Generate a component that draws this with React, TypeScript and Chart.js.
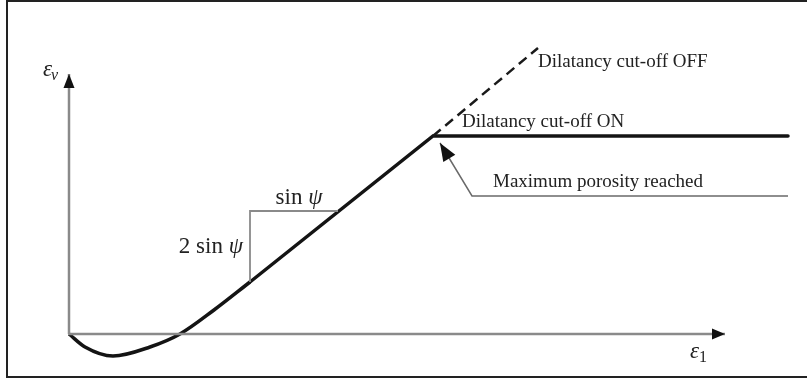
import React, { useEffect, useRef } from "react";
import { Chart, registerables } from "chart.js";

Chart.register(...registerables);

const W = 807;
const H = 379;

// Volumetric strain εv against axial strain ε1 (schematic units)
const curveE1 = [0, 0.16, 0.44, 0.81, 1.11, 1.45, 1.81];
const curveEv = [0, -0.13, -0.22, -0.13, 0, 0.24, 0.52];

// Linear dilation up to the cut-off, then constant volume
const cutOnE1 = [1.81, 3.64, 7.19];
const cutOnEv = [0.52, 1.98, 1.98];

// Continued dilation without the cut-off
const cutOffE1 = [3.64, 4.69];
const cutOffEv = [1.98, 2.86];

// Slope triangle (sin ψ across, 2 sin ψ up)
const triE1 = [1.81, 1.81, 2.69];
const triEv = [0.52, 1.23, 1.23];

// Axes
const xAxisE1 = [0, 6.56];
const xAxisEv = [0, 0];
const yAxisE1 = [0, 0];
const yAxisEv = [0, 2.6];

// Leader from the "Maximum porosity reached" note to the kink
const leaderE1 = [3.71, 4.03, 7.19];
const leaderEv = [1.91, 1.38, 1.38];

const noteTexts = ["Dilatancy cut-off OFF", "Dilatancy cut-off ON", "Maximum porosity reached"];
const noteE1 = [4.69, 3.93, 4.24];
const noteEv = [2.72, 2.12, 1.52];

const xMin = -0.69;
const xMax = 7.38;
const yMin = -0.45;
const yMax = 3.34;

const pts = (xs: number[], ys: number[]) => xs.map((x, i) => ({ x, y: ys[i] }));

const SERIF = '"Liberation Serif", "DejaVu Serif", serif';
const TEXT = "#222";

function arrowHead(ctx: CanvasRenderingContext2D, tipX: number, tipY: number, fromX: number, fromY: number, len: number, half: number, color: string) {
  const a = Math.atan2(tipY - fromY, tipX - fromX);
  ctx.save();
  ctx.translate(tipX, tipY);
  ctx.rotate(a);
  ctx.beginPath();
  ctx.moveTo(0, 0);
  ctx.lineTo(-len, -half);
  ctx.lineTo(-len, half);
  ctx.closePath();
  ctx.fillStyle = color;
  ctx.fill();
  ctx.restore();
}

const decorPlugin = {
  id: "decor",
  afterDatasetsDraw(chart: any) {
    const ctx: CanvasRenderingContext2D = chart.ctx;
    const xs = chart.scales.x;
    const ys = chart.scales.y;
    const px = (v: number) => xs.getPixelForValue(v);
    const py = (v: number) => ys.getPixelForValue(v);

    // frame
    ctx.save();
    ctx.strokeStyle = "#222";
    ctx.lineWidth = 2;
    ctx.beginPath();
    ctx.moveTo(W + 5, 1);
    ctx.lineTo(7, 1);
    ctx.lineTo(7, 377);
    ctx.lineTo(W + 5, 377);
    ctx.stroke();
    ctx.restore();

    // axis arrowheads
    arrowHead(ctx, px(xAxisE1[1]), py(xAxisEv[1]), px(0), py(0), 13, 5.5, "#111");
    arrowHead(ctx, px(yAxisE1[1]), py(yAxisEv[1]), px(0), py(0), 14, 5.5, "#111");
    // leader arrowhead
    arrowHead(ctx, px(leaderE1[0]), py(leaderEv[0]), px(leaderE1[1]), py(leaderEv[1]), 18, 7, "#111");

    ctx.save();
    ctx.fillStyle = TEXT;
    ctx.textBaseline = "middle";

    // notes
    ctx.font = `19px ${SERIF}`;
    ctx.textAlign = "left";
    noteTexts.forEach((t, i) => ctx.fillText(t, px(noteE1[i]), py(noteEv[i])));

    // sin ψ
    const size = 23;
    const drawSinPsi = (x: number, y: number, prefix: string, align: "center" | "right") => {
      ctx.font = `${size}px ${SERIF}`;
      const a = prefix + "sin ";
      const wa = ctx.measureText(a).width;
      ctx.font = `italic ${size}px ${SERIF}`;
      const wb = ctx.measureText("ψ").width;
      const total = wa + wb;
      const left = align === "center" ? x - total / 2 : x - total;
      ctx.textAlign = "left";
      ctx.font = `${size}px ${SERIF}`;
      ctx.fillText(a, left, y);
      ctx.font = `italic ${size}px ${SERIF}`;
      ctx.fillText("ψ", left + wa, y);
    };
    drawSinPsi(px(2.3), py(1.36), "", "center");
    drawSinPsi(px(1.74), py(0.87), "2 ", "right");

    // axis titles
    ctx.textAlign = "left";
    ctx.font = `italic 23px ${SERIF}`;
    const ex = px(-0.26);
    const ey = py(2.64);
    ctx.fillText("ε", ex, ey);
    const we = ctx.measureText("ε").width;
    ctx.font = `italic 16px ${SERIF}`;
    ctx.fillText("v", ex + we - 1, ey + 6);

    ctx.font = `italic 23px ${SERIF}`;
    const fx = px(6.21);
    const fy = py(-0.18);
    ctx.fillText("ε", fx, fy);
    const wf = ctx.measureText("ε").width;
    ctx.font = `16px ${SERIF}`;
    ctx.fillText("1", fx + wf, fy + 6);
    ctx.restore();
  },
};

export default function App() {
  const ref = useRef<HTMLCanvasElement | null>(null);

  useEffect(() => {
    if (!ref.current) return;
    const chart = new Chart(ref.current, {
      type: "line",
      data: {
        datasets: [
          { label: "ε1 axis", data: pts(xAxisE1, xAxisEv), borderColor: "#8a8a8a", borderWidth: 2.5, tension: 0 },
          { label: "εv axis", data: pts(yAxisE1, yAxisEv), borderColor: "#8a8a8a", borderWidth: 2.5, tension: 0 },
          { label: "slope", data: pts(triE1, triEv), borderColor: "#8a8a8a", borderWidth: 1.8, tension: 0 },
          { label: "leader", data: pts(leaderE1, leaderEv), borderColor: "#6a6a6a", borderWidth: 1.5, tension: 0 },
          { label: "cut-off OFF", data: pts(cutOffE1, cutOffEv), borderColor: "#1a1a1a", borderWidth: 2.5, borderDash: [10, 6], tension: 0 },
          { label: "contraction", data: pts(curveE1, curveEv), borderColor: "#141414", borderWidth: 3.5, cubicInterpolationMode: "monotone" },
          { label: "cut-off ON", data: pts(cutOnE1, cutOnEv), borderColor: "#141414", borderWidth: 3.5, tension: 0, borderCapStyle: "round" },
        ],
      },
      options: {
        animation: false,
        responsive: false,
        devicePixelRatio: 1,
        layout: { padding: 0 },
        elements: { point: { radius: 0 } },
        plugins: { legend: { display: false }, tooltip: { enabled: false } },
        scales: {
          x: { type: "linear", min: xMin, max: xMax, display: false },
          y: { type: "linear", min: yMin, max: yMax, display: false },
        },
      },
      plugins: [decorPlugin],
    } as any);
    return () => chart.destroy();
  }, []);

  return (
    <div style={{ position: "absolute", left: 0, top: 0, width: W, height: H, background: "#fff" }}>
      <canvas ref={ref} width={W} height={H} style={{ display: "block", width: W, height: H }} />
    </div>
  );
}
